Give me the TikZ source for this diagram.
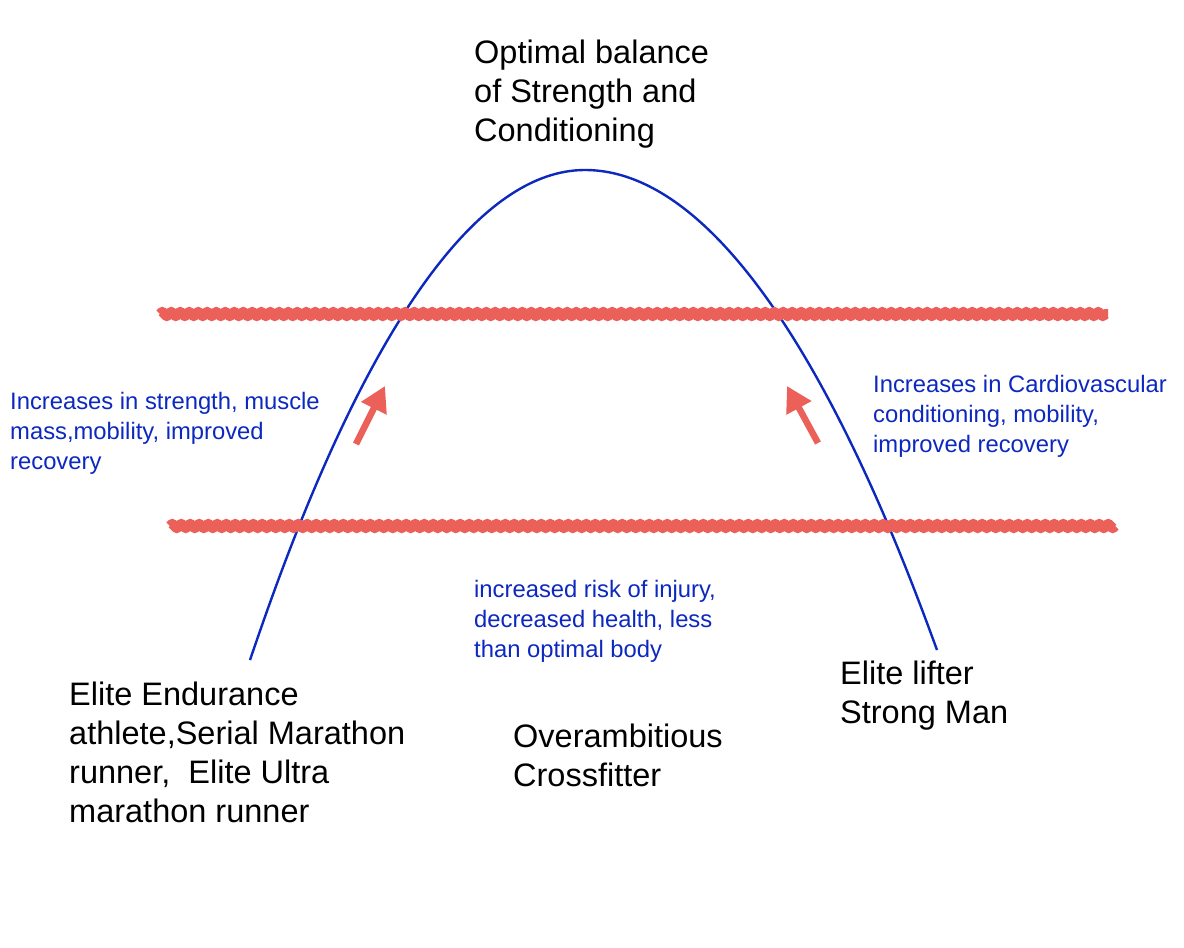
\documentclass[tikz,border=0pt]{standalone}
\usepackage{fontspec}
\setmainfont{Liberation Sans}
\usetikzlibrary{arrows.meta,decorations.pathmorphing}
\definecolor{curveblue}{RGB}{12,40,190}
\definecolor{markred}{RGB}{236,96,90}
\begin{document}
\begin{tikzpicture}[x=1pt,y=-1pt,
  % texts: black = athlete types, blue = notes on the way up
  % (base anchor of a multi-line node = baseline of its last line)
  big/.style={anchor=base west, inner sep=0pt, align=left,
              font=\fontsize{32.5}{39}\selectfont},
  note/.style={anchor=base west, inner sep=0pt, align=left, text=curveblue,
               font=\fontsize{23.8}{30}\selectfont},
  % strokes
  hump/.style={draw=curveblue, line width=2.4pt},
  band/.style={draw=markred, line width=10pt, line join=round,
               decorate, decoration={zigzag, amplitude=2.3pt, segment length=9pt}},
  push/.style={draw=markred, line width=6.5pt,
               -{Triangle[length=25pt, width=27pt]}},
  ]
  \useasboundingbox (0,0) rectangle (1184,948);
  % ---- the hump: endurance on the left, strength on the right -----------------
  \coordinate (endu)  at (250,660);
  \coordinate (peak)  at (585,170);
  \coordinate (power) at (937,650);
  \draw[hump] (endu) parabola bend (peak) (power);
  % ---- red bands ---------------------------------------------------------------
  \coordinate (hiL) at (160,314);  \coordinate (hiR) at (1108,314);
  \coordinate (loL) at (170,526);  \coordinate (loR) at (1115,526);
  \draw[band] (hiL) -- (hiR);
  \draw[band] (loL) -- (loR);
  % ---- arrows toward the upper band -----------------------------------------------
  \coordinate (upLa) at (356,444); \coordinate (upLb) at (385,386);
  \coordinate (upRa) at (818,443); \coordinate (upRb) at (787,386);
  \draw[push] (upLa) -- (upLb);
  \draw[push] (upRa) -- (upRb);
  % ---- labels ----------------------------------------------------------------
  \node[big] (top) at (474,141) {Optimal balance\\of Strength and\\Conditioning};
  \node[note] (gainL) at (10,469) {Increases in strength, muscle\\mass,mobility, improved\\recovery};
  \node[note] (gainR) at (873,452) {Increases in Cardiovascular\\conditioning, mobility,\\improved recovery};
  \node[note] (risk) at (474,657) {increased risk of injury,\\decreased health, less\\than optimal body};
  \node[big] (runner) at (69,822) {Elite Endurance\\athlete,Serial Marathon\\runner,\ \ Elite Ultra\\marathon runner};
  \node[big] (cross) at (513,786) {Overambitious\\Crossfitter};
  \node[big] (lifter) at (840,723) {Elite lifter\\Strong Man};
\end{tikzpicture}
\end{document}
